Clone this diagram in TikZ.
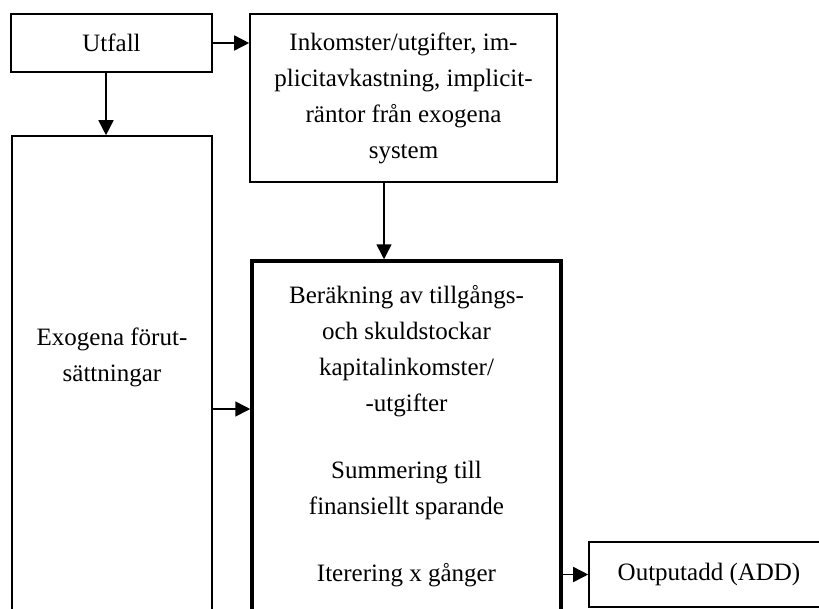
\documentclass[tikz,border=0pt]{standalone}
\usepackage{fontspec}
\setmainfont{Liberation Serif}
\usetikzlibrary{arrows.meta, positioning}
\tikzstyle{box} = [draw=black, line width=1.6pt, align=center, inner sep=0pt]
\tikzstyle{arrow} = [line width=1.6pt, -{Triangle[length=15pt, width=15pt]}]

\begin{document}
\begin{tikzpicture}[x=1pt, y=-1pt, every node/.style={font=\fontsize{25}{36}\selectfont}]
\clip (0,0) rectangle (819,608);

% Inputs
\node[box, minimum width=201pt, minimum height=58pt] (utfall) at (111.5,43) {Utfall};
\node[box, minimum width=307pt, minimum height=168pt] (inkomst) at (403.5,98)
  {Inkomster/utgifter, im-\\plicitavkastning, implicit-\\räntor från exogena\\system};

% Exogenous assumptions
\node[box, minimum width=200pt, minimum height=546pt] (exogena) at (112,409) {};
\node[align=center] (exotext) at (112,357) {Exogena förut-\\sättningar};

% Calculation block
\node[box, line width=3.5pt, minimum width=309pt, minimum height=350pt] (berakning) at (406.5,436)
  {Beräkning av tillgångs-\\och skuldstockar\\kapitalinkomster/\\-utgifter\\[31pt]Summering till\\finansiellt sparande\\[31pt]Iterering x gånger};

% Output
\node[box, minimum width=240pt, minimum height=65pt] (output) at (709,574.5) {Outputadd (ADD)};

% Arrows
\draw[arrow] (utfall.east) -- (utfall.east -| inkomst.west);
\draw[arrow] ([xshift=-5.5pt]utfall.south) -- ([xshift=-5.5pt]utfall.south |- exogena.north);
\draw[arrow] ([xshift=-19.5pt]inkomst.south) -- ([xshift=-19.5pt]inkomst.south |- berakning.north);
\draw[arrow] (exogena.east) -- (exogena.east -| berakning.west);
\draw[arrow] (output.west -| berakning.east) -- (output.west);
\end{tikzpicture}
\end{document}
